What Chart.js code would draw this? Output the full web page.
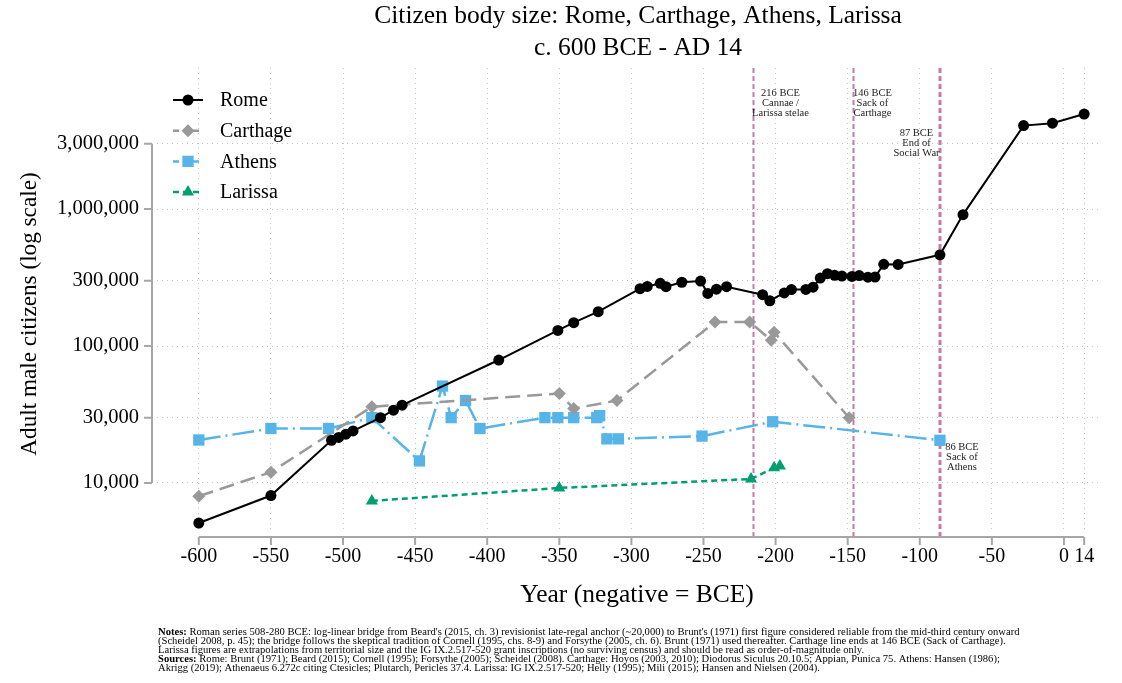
<!DOCTYPE html>
<html>
<head>
<meta charset="utf-8">
<script src="https://cdn.jsdelivr.net/npm/chart.js@4.4.1/dist/chart.umd.min.js"></script>
<style>
  html, body { margin: 0; padding: 0; background: #fff; }
  #wrap { width: 1122px; height: 683px; position: relative; }
</style>
</head>
<body>
<div id="wrap"><canvas id="chart" width="1122" height="683"></canvas></div>
<script>
// values
const romeYears = [-600, -550, -508, -503, -498, -493, -474, -465, -459, -392, -351, -340, -323,
  -294, -289, -280, -276, -265, -252, -247, -241, -234, -209, -204, -194, -189, -179, -174,
  -169, -164, -159, -154, -147, -142, -136, -131, -125, -115, -86, -70, -28, -8, 14];
const romeCitizens = [5100, 8100, 20500, 21500, 22700, 24000, 30000, 34000, 37000, 79000, 130000, 148000, 178000,
  262000, 272000, 287000, 271000, 292000, 298000, 242000, 260000, 271000, 237000, 214000, 244000, 258000, 259000, 269000,
  313000, 337000, 328000, 324000, 322000, 327000, 318000, 319000, 395000, 394000, 463000, 910000, 4063000, 4233000, 4937000];

const carthageYears = [-600, -550, -480, -350, -340, -310, -242, -218, -203, -201, -149];
const carthageCitizens = [8000, 12000, 36000, 45000, 35000, 40000, 150000, 150000, 110000, 126000, 30000];

const athensYears = [-600, -550, -510, -480, -447, -431, -425, -415, -405, -360, -351, -340, -324, -322, -317, -309, -251, -202, -86];
const athensCitizens = [20600, 25000, 25000, 30000, 14500, 51000, 30000, 40000, 25000, 30000, 30000, 30000, 30000, 31000, 21000, 21000, 22000, 28000, 20500];

const larissaYears = [-480, -350, -217, -201, -197];
const larissaCitizens = [7400, 9200, 10700, 12900, 13300];

const xTickValues = [-600, -550, -500, -450, -400, -350, -300, -250, -200, -150, -100, -50, 0, 14];
const yTickValues = [10000, 30000, 100000, 300000, 1000000, 3000000];

const eventYears = [-216, -146, -87, -86];
const eventLabels = [
  ['216 BCE', 'Cannae /', 'Larissa stelae'],
  ['146 BCE', 'Sack of', 'Carthage'],
  ['87 BCE', 'End of', 'Social War'],
  ['86 BCE', 'Sack of', 'Athens']
];

const titleLines = ['Citizen body size: Rome, Carthage, Athens, Larissa', 'c. 600 BCE - AD 14'];
const noteLines = [
  ['Notes:', " Roman series 508-280 BCE: log-linear bridge from Beard's (2015, ch. 3) revisionist late-regal anchor (~20,000) to Brunt's (1971) first figure considered reliable from the mid-third century onward"],
  ['', '(Scheidel 2008, p. 45); the bridge follows the skeptical tradition of Cornell (1995, chs. 8-9) and Forsythe (2005, ch. 6). Brunt (1971) used thereafter. Carthage line ends at 146 BCE (Sack of Carthage).'],
  ['', 'Larissa figures are extrapolations from territorial size and the IG IX.2.517-520 grant inscriptions (no surviving census) and should be read as order-of-magnitude only.'],
  ['Sources:', ' Rome: Brunt (1971); Beard (2015); Cornell (1995); Forsythe (2005); Scheidel (2008). Carthage: Hoyos (2003, 2010); Diodorus Siculus 20.10.5; Appian, Punica 75. Athens: Hansen (1986);'],
  ['', 'Akrigg (2019); Athenaeus 6.272c citing Ctesicles; Plutarch, Pericles 37.4. Larissa: IG IX.2.517-520; Helly (1995); Mili (2015); Hansen and Nielsen (2004).']
];

const SERIF = '"Liberation Serif", "Times New Roman", serif';
const PINK = '#cc79a7';
const AXIS_GREY = '#a6a6a6';

const toPoints = (xs, ys) => xs.map((x, i) => ({ x: x, y: ys[i] }));

const series = [
  { label: 'Rome', data: toPoints(romeYears, romeCitizens), color: '#000000', dash: [], width: 2, style: 'circle', radius: 5.5 },
  { label: 'Carthage', data: toPoints(carthageYears, carthageCitizens), color: '#999999', dash: [15, 7], width: 2.5, style: 'rectRot', radius: 6.5 },
  { label: 'Athens', data: toPoints(athensYears, athensCitizens), color: '#56b4e9', dash: [22, 5, 2, 5], width: 2.5, style: 'rect', radius: 8 },
  { label: 'Larissa', data: toPoints(larissaYears, larissaCitizens), color: '#009e73', dash: [6, 4], width: 2.5, style: 'triangle', radius: 7 }
];

const decorations = {
  id: 'decorations',
  beforeDatasetsDraw(chart) {
    const ctx = chart.ctx;
    const x = chart.scales.x;
    const area = chart.chartArea;
    ctx.save();
    // event lines
    ctx.strokeStyle = PINK;
    ctx.lineWidth = 2;
    ctx.setLineDash([5, 3]);
    eventYears.forEach(yr => {
      const px = Math.round(x.getPixelForValue(yr)) + 0.5;
      ctx.beginPath();
      ctx.moveTo(px, area.top);
      ctx.lineTo(px, area.bottom + 4);
      ctx.stroke();
    });
    ctx.setLineDash([]);
    // event labels
    ctx.fillStyle = '#222';
    ctx.font = '10.5px ' + SERIF;
    ctx.textBaseline = 'middle';
    ctx.textAlign = 'center';
    const labelPos = [
      { dx: 28, y: 93 },
      { dx: 19, y: 93 },
      { dx: -22, y: 133 },
      { dx: 22, y: 447 }
    ];
    eventYears.forEach((yr, i) => {
      const px = x.getPixelForValue(yr);
      eventLabels[i].forEach((t, j) => {
        ctx.fillText(t, px + labelPos[i].dx, labelPos[i].y + j * 10.3);
      });
    });
    ctx.restore();
  },
  afterDraw(chart) {
    const ctx = chart.ctx;
    const x = chart.scales.x, y = chart.scales.y;
    const area = chart.chartArea;
    ctx.save();
    // axis lines and tick marks
    ctx.strokeStyle = AXIS_GREY;
    ctx.lineWidth = 2;
    const axY = area.bottom + 4;
    const axX = area.left - 5;
    ctx.beginPath();
    ctx.moveTo(x.getPixelForValue(xTickValues[0]), axY);
    ctx.lineTo(x.getPixelForValue(xTickValues[xTickValues.length - 1]), axY);
    xTickValues.forEach(v => {
      const px = x.getPixelForValue(v);
      ctx.moveTo(px, axY);
      ctx.lineTo(px, axY + 8);
    });
    ctx.moveTo(axX, y.getPixelForValue(yTickValues[0]));
    ctx.lineTo(axX, y.getPixelForValue(yTickValues[yTickValues.length - 1]));
    yTickValues.forEach(v => {
      const py = y.getPixelForValue(v);
      ctx.moveTo(axX, py);
      ctx.lineTo(axX - 8, py);
    });
    ctx.stroke();

    // titles
    ctx.fillStyle = '#000';
    ctx.textAlign = 'center';
    ctx.textBaseline = 'middle';
    ctx.font = '25.5px ' + SERIF;
    ctx.fillText(titleLines[0], 638, 16);
    ctx.fillText(titleLines[1], 638, 48);
    ctx.font = '25.5px ' + SERIF;
    ctx.fillText('Year (negative = BCE)', 637, 595);
    ctx.save();
    ctx.translate(30, 314);
    ctx.rotate(-Math.PI / 2);
    ctx.font = '23.2px ' + SERIF;
    ctx.fillText('Adult male citizens (log scale)', 0, 0);
    ctx.restore();

    // legend
    ctx.font = '20px ' + SERIF;
    ctx.textAlign = 'left';
    series.forEach((s, i) => {
      const ly = 100 + i * 30.7;
      ctx.strokeStyle = s.color;
      ctx.lineWidth = s.width;
      ctx.setLineDash(s.dash.length ? [6, 4] : []);
      ctx.beginPath();
      ctx.moveTo(173, ly);
      ctx.lineTo(203, ly);
      ctx.stroke();
      ctx.setLineDash([]);
      ctx.fillStyle = s.color;
      Chart.helpers.drawPoint(ctx, { pointStyle: s.style, radius: s.radius, borderWidth: 0 }, 188, ly);
      ctx.fillStyle = '#000';
      ctx.fillText(s.label, 220, ly + 1);
    });

    // notes
    ctx.textBaseline = 'middle';
    noteLines.forEach((ln, i) => {
      const ny = 632.5 + i * 9;
      let nx = 158;
      if (ln[0]) {
        ctx.font = 'bold 10.6px ' + SERIF;
        ctx.fillText(ln[0], nx, ny);
        nx += ctx.measureText(ln[0]).width;
      }
      ctx.font = '10.6px ' + SERIF;
      ctx.fillText(ln[1], nx, ny);
    });
    ctx.restore();
  }
};

new Chart(document.getElementById('chart'), {
  type: 'line',
  data: {
    datasets: series.map(s => ({
      label: s.label,
      data: s.data,
      borderColor: s.color,
      backgroundColor: s.color,
      borderWidth: s.width,
      borderDash: s.dash,
      pointStyle: s.style,
      pointRadius: s.radius,
      pointBorderWidth: 0,
      pointBackgroundColor: s.color,
      tension: 0,
      fill: false
    }))
  },
  options: {
    responsive: false,
    animation: false,
    devicePixelRatio: 1,
    layout: { padding: { left: 0, right: 22, top: 68, bottom: 0 } },
    plugins: {
      legend: { display: false },
      title: { display: false },
      tooltip: { enabled: false }
    },
    scales: {
      x: {
        type: 'linear',
        min: -629,
        max: 25,
        afterBuildTicks: scale => { scale.ticks = xTickValues.map(v => ({ value: v })); },
        afterFit: scale => { scale.height = 150; },
        ticks: {
          autoSkip: false,
          maxRotation: 0,
          padding: 12,
          color: '#000',
          font: { family: SERIF, size: 20 },
          callback: v => String(v)
        },
        grid: { color: '#c4c4c4', lineWidth: 1, drawTicks: false },
        border: { display: false, dash: [1, 4] }
      },
      y: {
        type: 'logarithmic',
        min: 4315,
        max: 10700000,
        afterBuildTicks: scale => { scale.ticks = yTickValues.map(v => ({ value: v })); },
        afterFit: scale => { scale.width = 157; },
        ticks: {
          padding: 18,
          color: '#000',
          font: { family: SERIF, size: 20.5 },
          callback: v => Number(v).toLocaleString('en-US')
        },
        grid: { color: '#c4c4c4', lineWidth: 1, drawTicks: false },
        border: { display: false, dash: [1, 4] }
      }
    }
  },
  plugins: [decorations]
});
</script>
</body>
</html>
